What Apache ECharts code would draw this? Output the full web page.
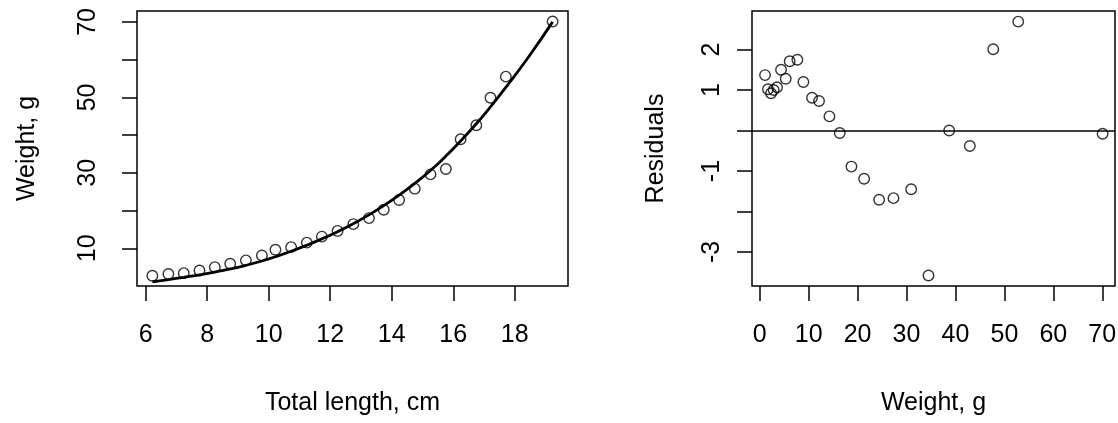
<!DOCTYPE html>
<html>
<head>
<meta charset="utf-8">
<script src="https://cdn.jsdelivr.net/npm/echarts@6/dist/echarts.min.js"></script>
<style>html,body{margin:0;padding:0;background:#fff}#c{width:1118px;height:423px}</style>
</head>
<body>
<div id="c"></div>
<script>
// Left panel: observed weight vs total length
var lengthCm = [6.22, 6.74, 7.24, 7.75, 8.25, 8.75, 9.26, 9.78, 10.22, 10.73, 11.24, 11.73, 12.24, 12.75, 13.26, 13.74, 14.24, 14.75, 15.26, 15.76, 16.24, 16.75, 17.21, 17.71, 19.23];
var weightObs = [2.7, 3.2, 3.4, 4.1, 5.0, 5.9, 6.8, 8.1, 9.6, 10.3, 11.5, 13.1, 14.6, 16.4, 18.0, 20.2, 22.8, 25.8, 29.6, 31.0, 38.9, 42.6, 49.9, 55.5, 70.1];
// Left panel: fitted curve
var curveLength = [6.22, 6.74, 7.24, 7.75, 8.25, 8.75, 9.26, 9.78, 10.22, 10.73, 11.24, 11.73, 12.24, 12.75, 13.26, 13.74, 14.24, 14.75, 15.26, 15.76, 16.24, 16.75, 17.21, 17.71, 18.47, 19.23];
var curveWeight = [1.10, 1.70, 2.30, 2.96, 3.69, 4.52, 5.49, 6.63, 7.75, 9.20, 10.81, 12.50, 14.41, 16.50, 18.85, 21.30, 24.10, 27.21, 30.63, 34.43, 38.46, 43.00, 47.46, 52.66, 60.98, 70.02];
// Right panel: residuals vs fitted weight
var fittedWeight = [1.09, 1.70, 2.32, 2.86, 3.54, 4.36, 5.32, 6.13, 7.70, 8.93, 10.70, 12.13, 14.25, 16.36, 18.75, 21.34, 24.40, 27.34, 30.95, 34.49, 38.72, 42.94, 47.72, 52.83, 70.07];
var residuals = [1.37, 1.02, 0.92, 1.00, 1.07, 1.50, 1.28, 1.71, 1.75, 1.20, 0.81, 0.73, 0.35, -0.06, -0.89, -1.19, -1.71, -1.67, -1.45, -3.58, 0.00, -0.38, 2.01, 2.69, -0.08];
// Tick labels
var leftXTicks = [6, 8, 10, 12, 14, 16, 18];
var leftYTicks = [10, 20, 30, 40, 50, 60, 70];
var leftYLabels = [10, 30, 50, 70];
var rightXTicks = [0, 10, 20, 30, 40, 50, 60, 70];
var rightYTicks = [-3, -2, -1, 0, 1, 2];
var rightYLabels = [-3, -1, 1, 2];

var FONT = '"Liberation Sans", Arial, sans-serif';
var FS = 25;

function pairs(a, b) { return a.map(function (v, i) { return [v, b[i]]; }); }

function axisCommon(ticks, labels, margin, rotate) {
  return {
    axisLine: { show: false, onZero: false },
    splitLine: { show: false },
    axisTick: { show: true, inside: false, length: 15, customValues: ticks, lineStyle: { color: '#000', width: 1.5 } },
    axisLabel: { customValues: labels, color: '#000', fontSize: FS, fontFamily: FONT, margin: margin, rotate: rotate || 0 },
    nameTextStyle: { color: '#000', fontSize: FS, fontFamily: FONT },
    nameMoveOverlap: false
  };
}

var circleStyle = { color: 'rgba(0,0,0,0)', borderColor: '#000', borderWidth: 1.4 };

var chart = echarts.init(document.getElementById('c'), null, { renderer: 'canvas' });
chart.setOption({
  animation: false,
  backgroundColor: '#fff',
  grid: [
    { left: 137, top: 11, width: 431, height: 275, show: true, borderColor: '#000', borderWidth: 1.5, backgroundColor: 'transparent', outerBoundsMode: 'none' },
    { left: 752, top: 11, width: 363, height: 275, show: true, borderColor: '#000', borderWidth: 1.5, backgroundColor: 'transparent', outerBoundsMode: 'none' }
  ],
  xAxis: [
    Object.assign({ type: 'value', gridIndex: 0, min: 5.72, max: 19.73, name: 'Total length, cm', nameLocation: 'middle', nameGap: 105 }, axisCommon(leftXTicks, leftXTicks, 37)),
    Object.assign({ type: 'value', gridIndex: 1, min: -1.57, max: 72.6, name: 'Weight, g', nameLocation: 'middle', nameGap: 105 }, axisCommon(rightXTicks, rightXTicks, 37))
  ],
  yAxis: [
    Object.assign({ type: 'value', gridIndex: 0, min: 0, max: 72.9, name: 'Weight, g', nameLocation: 'middle', nameRotate: 90, nameGap: 97 }, axisCommon(leftYTicks, leftYLabels, 36, 90)),
    Object.assign({ type: 'value', gridIndex: 1, min: -3.84, max: 2.953, name: 'Residuals', nameLocation: 'middle', nameRotate: 90, nameGap: 83 }, axisCommon(rightYTicks, rightYLabels, 27, 90))
  ],
  series: [
    {
      type: 'line', xAxisIndex: 0, yAxisIndex: 0, data: pairs(curveLength, curveWeight),
      showSymbol: false, smooth: true, lineStyle: { color: '#000', width: 2.8 }, z: 2, silent: true
    },
    {
      type: 'scatter', xAxisIndex: 0, yAxisIndex: 0, data: pairs(lengthCm, weightObs),
      symbol: 'circle', symbolSize: 10.5, itemStyle: circleStyle, z: 3, silent: true
    },
    {
      type: 'scatter', xAxisIndex: 1, yAxisIndex: 1, data: pairs(fittedWeight, residuals),
      symbol: 'circle', symbolSize: 10.5, itemStyle: circleStyle, z: 3, silent: true,
      markLine: {
        silent: true, symbol: 'none', animation: false,
        label: { show: false },
        lineStyle: { color: '#000', width: 1.5, type: 'solid' },
        data: [{ yAxis: 0 }]
      }
    }
  ]
});
</script>
</body>
</html>
